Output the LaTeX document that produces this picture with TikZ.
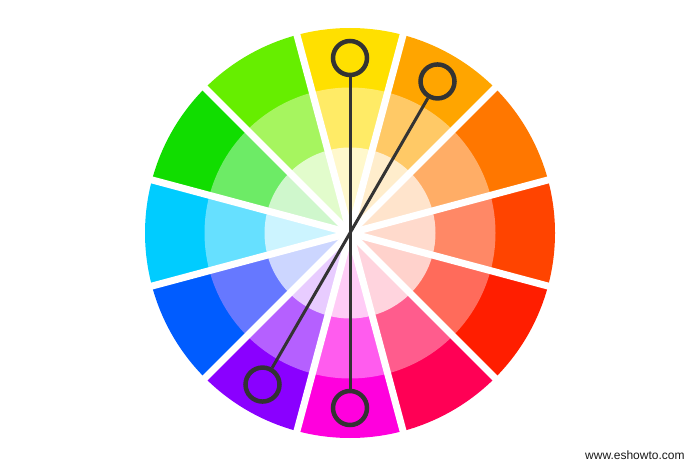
\documentclass[tikz,border=0pt]{standalone}
\usepackage{fontspec}
\setmainfont{Liberation Sans}
\definecolor{ringcol}{HTML}{333333}
\definecolor{wmcol}{HTML}{1A1A1A}
\tikzset{
  ring/.style={circle, draw=ringcol, line width=4.5pt, minimum size=34pt, inner sep=0pt},
  conn/.style={draw=ringcol, line width=3pt},
  gap/.style={draw=white, line width=7pt},
  wmark/.style={anchor=base west, inner sep=0pt, text=wmcol, font=\fontsize{12}{14}\selectfont}
}
\begin{document}
\begin{tikzpicture}[x=1pt,y=1pt]
\useasboundingbox (0,0) rectangle (700,466);
\fill[white] (0,0) rectangle (700,466);
\begin{scope}[shift={(350,233)}]
\foreach \a/\co/\cmid/\ci in {
  90/FFE000/FFEB66/FFF8CC,
  60/FFA500/FFC966/FFEDCC,
  30/FF7700/FFAD66/FFE4CC,
  0/FF4400/FF8866/FFDACC,
  -30/FF1E00/FF6B5B/FFD2CC,
  -60/FF0055/FF5C8D/FFD4DE,
  -90/FF00DD/FF5CEE/FFCCF6,
  -120/8A00FF/B560FF/E8CCFF,
  -150/005CFF/6678FF/CCD6FF,
  180/00CCFF/66E0FF/CCF4FF,
  150/11DD00/6DEB66/CFF7CC,
  120/66EE00/A6F55F/E2FCCC} {
  \definecolor{segout}{HTML}{\co}
  \definecolor{segmid}{HTML}{\cmid}
  \definecolor{segin}{HTML}{\ci}
  \fill[segout] ({\a-15}:145) arc[start angle={\a-15}, end angle={\a+15}, radius=145]
     -- ({\a+15}:205) arc[start angle={\a+15}, end angle={\a-15}, radius=205] -- cycle;
  \fill[segmid] ({\a-15}:85) arc[start angle={\a-15}, end angle={\a+15}, radius=85]
     -- ({\a+15}:145.5) arc[start angle={\a+15}, end angle={\a-15}, radius=145.5] -- cycle;
  \fill[segin] (0,0) -- ({\a-15}:85.5) arc[start angle={\a-15}, end angle={\a+15}, radius=85.5] -- cycle;
}
\foreach \b in {15,45,...,345} {
  \draw[gap] (0,0) -- (\b:212);
}
\node[ring] (cy) at (90:175) {};
\node[ring] (cor) at (60:175) {};
\node[ring] (cmg) at (270:175) {};
\node[ring] (cv) at (240:175) {};
\draw[conn] (cy) -- (cmg);
\draw[conn] (cor) -- (cv);
\end{scope}
\node[wmark] (wm) at (585,7) {www.eshowto.com};
\end{tikzpicture}
\end{document}
